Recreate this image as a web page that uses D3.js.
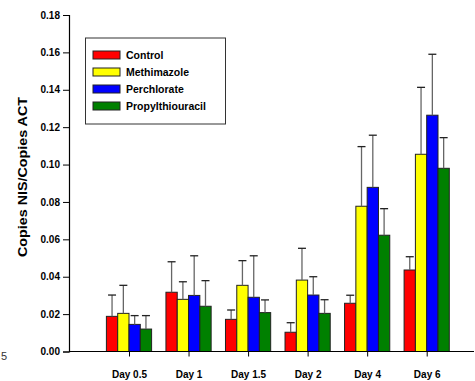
<!DOCTYPE html>
<html>
<head>
<meta charset="utf-8">
<script src="https://cdn.jsdelivr.net/npm/d3@7"></script>
<style>
  body { margin: 0; background: #fff; }
  svg text { font-family: "Liberation Sans", Arial, sans-serif; }
</style>
</head>
<body>
<svg id="canvas"></svg>
<script>
/* Data */
const days = ["Day 0.5", "Day 1", "Day 1.5", "Day 2", "Day 4", "Day 6"];
const groups = ["Control", "Methimazole", "Perchlorate", "Propylthiouracil"];
const colors = ["#ff0000", "#ffff00", "#0000ff", "#008000"];
const control = [0.0188, 0.0317, 0.0172, 0.0103, 0.0258, 0.0436];
const methimazole = [0.0204, 0.0279, 0.0354, 0.0382, 0.0777, 0.1055];
const perchlorate = [0.0145, 0.0300, 0.0290, 0.0302, 0.0878, 0.1264];
const propyl = [0.0120, 0.0242, 0.0208, 0.0204, 0.0622, 0.0980];
// upper end of the error bars
const controlErr = [0.0302, 0.0480, 0.0222, 0.0154, 0.0301, 0.0507];
const methimazoleErr = [0.0354, 0.0373, 0.0486, 0.0552, 0.1096, 0.1413];
const perchlorateErr = [0.0192, 0.0512, 0.0512, 0.0400, 0.1157, 0.1590];
const propylErr = [0.0192, 0.0379, 0.0276, 0.0277, 0.0764, 0.1144];
const yTicks = [0, 0.02, 0.04, 0.06, 0.08, 0.10, 0.12, 0.14, 0.16, 0.18];

const width = 475, height = 381;
const values = [control, methimazole, perchlorate, propyl];
const errs = [controlErr, methimazoleErr, perchlorateErr, propylErr];

const rows = [];
days.forEach((d, i) => {
    groups.forEach((g, j) => {
        rows.push({ day: d, group: g, value: values[j][i], err: errs[j][i], color: colors[j] });
    });
});

const svg = d3.select("#canvas")
    .attr("width", width)
    .attr("height", height);

/* Scales */
const x = d3.scalePoint()
    .domain(days)
    .range([129, 426.7]);

const x1 = d3.scaleBand()
    .domain(groups)
    .range([-22.6, 22.6])
    .padding(0);

const y = d3.scaleLinear()
    .domain([0, 0.18])
    .range([351.5, 15]);

/* Bars */
svg.append("g")
    .selectAll("rect")
    .data(rows)
    .enter()
    .append("rect")
    .attr("x", d => x(d.day) + x1(d.group))
    .attr("y", d => y(d.value))
    .attr("width", x1.bandwidth())
    .attr("height", d => y(0) - y(d.value))
    .attr("fill", d => d.color)
    .attr("stroke", "#222")
    .attr("stroke-width", 1);

/* Error bars (upper only) */
const eb = svg.append("g")
    .selectAll("g")
    .data(rows)
    .enter()
    .append("g");

eb.append("line")
    .attr("x1", d => x(d.day) + x1(d.group) + x1.bandwidth() / 2)
    .attr("x2", d => x(d.day) + x1(d.group) + x1.bandwidth() / 2)
    .attr("y1", d => y(d.value))
    .attr("y2", d => y(d.err))
    .attr("stroke", "#666")
    .attr("stroke-width", 1.3);

eb.append("line")
    .attr("x1", d => x(d.day) + x1(d.group) + x1.bandwidth() / 2 - 4)
    .attr("x2", d => x(d.day) + x1(d.group) + x1.bandwidth() / 2 + 4)
    .attr("y1", d => y(d.err))
    .attr("y2", d => y(d.err))
    .attr("stroke", "#222")
    .attr("stroke-width", 1.3);

/* Y axis */
const yAxis = svg.append("g")
    .attr("transform", "translate(69,0)")
    .call(d3.axisLeft(y).tickValues(yTicks).tickFormat(d3.format(".2f")).tickSize(6).tickPadding(3));
yAxis.select(".domain").attr("stroke", "#000").attr("stroke-width", 1.2);
yAxis.selectAll(".tick line").attr("stroke", "#000");
yAxis.selectAll("text")
    .attr("font-size", 10)
    .attr("font-weight", "bold")
    .attr("font-family", "Liberation Sans, Arial, sans-serif")
    .attr("fill", "#000");

/* X axis */
svg.append("line")
    .attr("x1", 69).attr("x2", 474)
    .attr("y1", y(0)).attr("y2", y(0))
    .attr("stroke", "#000").attr("stroke-width", 1.2);

const xAxis = svg.append("g")
    .attr("transform", `translate(0,${y(0)})`)
    .call(d3.axisBottom(x).tickSize(5).tickPadding(14));
xAxis.select(".domain").remove();
xAxis.selectAll(".tick line").attr("stroke", "#000");
xAxis.selectAll("text")
    .attr("font-size", 10)
    .attr("font-weight", "bold")
    .attr("font-family", "Liberation Sans, Arial, sans-serif")
    .attr("fill", "#000");

/* Y title */
svg.append("text")
    .attr("transform", "translate(27,177) rotate(-90)")
    .attr("text-anchor", "middle")
    .attr("font-size", 13)
    .attr("font-weight", "bold")
    .attr("textLength", 160)
    .attr("lengthAdjust", "spacingAndGlyphs")
    .text("Copies NIS/Copies ACT");

/* stray label at bottom left */
svg.append("text")
    .attr("x", 1)
    .attr("y", 360)
    .attr("font-size", 11)
    .attr("fill", "#333")
    .text("5");

/* Legend */
const legend = svg.append("g");
legend.append("rect")
    .attr("x", 85.5).attr("y", 38)
    .attr("width", 140).attr("height", 86)
    .attr("fill", "#fff")
    .attr("stroke", "#333");

const items = legend.selectAll("g.item")
    .data(groups)
    .enter()
    .append("g")
    .attr("transform", (d, i) => `translate(93,${51 + i * 17})`);

items.append("rect")
    .attr("width", 27).attr("height", 8)
    .attr("fill", (d, i) => colors[i])
    .attr("stroke", "#222");

items.append("text")
    .attr("x", 33).attr("y", 8)
    .attr("font-size", 10.5)
    .attr("font-weight", "bold")
    .text(d => d);
</script>
</body>
</html>
